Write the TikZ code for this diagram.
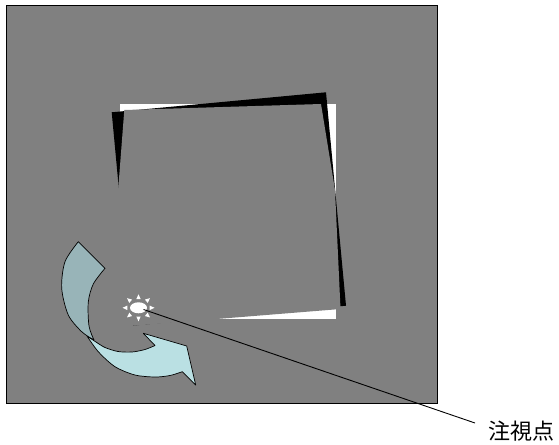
\documentclass[tikz,border=0pt]{standalone}
\usepackage{fontspec}
\newfontfamily\cjk{Noto Sans CJK JP}
\usetikzlibrary{calc}
\definecolor{bg}{RGB}{128,128,128}
\definecolor{arrowdark}{RGB}{152,180,184}
\definecolor{arrowlight}{RGB}{186,224,227}
\tikzset{
  arrowpart/.style={draw=black, line width=0.7pt, line join=round},
  sunray/.style={fill=white},
}
\begin{document}
\begin{tikzpicture}[x=1pt,y=-1pt]
\useasboundingbox (0,0) rectangle (559,444);
\fill[white] (0,0) rectangle (559,444);
% background panel
\draw[fill=bg, line width=1.2pt] (6.5,5.5) rectangle (437.5,403.5);
% white (reference) square
\fill[white] (120,104) rectangle (336,318.7);
% black rotated square
\fill[black] (111.7,112.3) -- (326,92.3) -- (346,305.7) -- (131.7,325.7) -- cycle;
% gray (viewed) square, same colour as the panel
\fill[bg] (124.3,110) -- (321,104) -- (335,190) -- (340.5,309) -- (107.5,327.8) -- cycle;
% curved arrow: light part
\filldraw[arrowpart, fill=arrowlight]
  plot[smooth] coordinates {(87,336) (96,342) (105,347.5) (118,351.5) (132,352) (145,349.5) (155,345.5)}
  -- (143.3,333.3) -- (186.7,346) -- (195.7,385) -- (182.3,371.7)
  -- plot[smooth] coordinates {(182.3,371.7) (170,375.5) (155,377) (135,375) (115,366.7) (98.3,351.7) (87,336)}
  -- cycle;
% curved arrow: dark part
\filldraw[arrowpart, fill=arrowdark]
  (78.3,241.7) -- (105,268.3)
  -- plot[smooth] coordinates {(105,268.3) (93.3,284) (88.3,302) (89,326) (94,340)}
  -- plot[smooth] coordinates {(94,340) (81.7,331.7) (68.3,315) (61.7,288.3) (65,261.7) (78.3,241.7)}
  -- cycle;
% sun (gaze point)
\coordinate (sun) at (138.5,307.8);
\fill[white] (sun) ellipse [x radius=8.5pt, y radius=5.5pt];
\begin{scope}[shift={(sun)}]
  \foreach \a/\r in {0/16,180/16,90/13.5,270/13.5,40/15,140/15,220/15,320/15}
    \fill[sunray, rotate=\a] (\r,0) -- (\r-4.8,2.2) -- (\r-4.8,-2.2) -- cycle;
\end{scope}
% leader line and label
\coordinate (lineend) at (475,423);
\node[anchor=west, inner sep=0pt] (label) at (488,431) {\cjk\fontsize{22}{22}\selectfont 注視点};
\draw[line width=0.9pt] ($(sun)+(5,1.7)$) -- (lineend);
\end{tikzpicture}
\end{document}
